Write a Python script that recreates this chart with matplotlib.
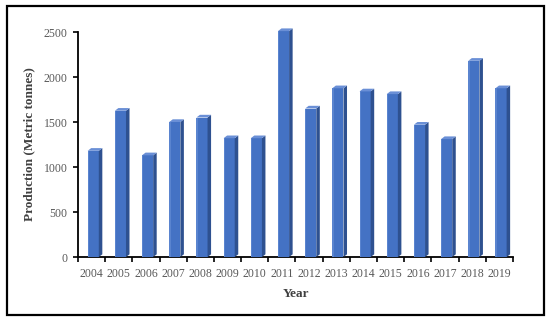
import matplotlib
matplotlib.use('Agg')
import matplotlib.pyplot as plt
from matplotlib.patches import Polygon, Rectangle
import numpy as np

#Data##########################################################################
years = ['2004', '2005', '2006', '2007', '2008', '2009', '2010', '2011',
         '2012', '2013', '2014', '2015', '2016', '2017', '2018', '2019']
production = [1180, 1625, 1130, 1500, 1550, 1320, 1320, 2510,
              1650, 1875, 1840, 1810, 1470, 1310, 2180, 1875]
###############################################################################

plt.rcParams['font.family'] = ['Liberation Serif', 'DejaVu Serif']

fig = plt.figure(figsize=(5.5, 3.23), dpi=100)
ax = fig.add_axes([0.1418, 0.2043, 0.7909, 0.6966])

x = np.arange(len(years))
w = 0.41
dx = 0.13   # depth offset, categories
dy = 30     # depth offset, data units
front = '#4472C4'
side = '#2E5190'
top = '#6A8FD6'
xf = x + 0.06

ax.bar(xf, production, width=w, color=front, edgecolor='none', zorder=3, clip_on=False)
for xi, v in zip(xf, production):
    r = xi + w / 2
    l = xi - w / 2
    ax.add_patch(Polygon([(r, 0), (r + dx, dy), (r + dx, v + dy), (r, v)],
                         closed=True, facecolor=side, edgecolor='none', zorder=3, clip_on=False))
    ax.add_patch(Polygon([(l, v), (r, v), (r + dx, v + dy), (l + dx, v + dy)],
                         closed=True, facecolor=top, edgecolor='none', zorder=3, clip_on=False))
    #light edge on the left of the front face
    ax.add_patch(Rectangle((l, 0), 0.05, v, facecolor='#5A84CF', edgecolor='none',
                           zorder=4, clip_on=False))

ax.set_xlim(-0.5, len(years) - 0.5)
ax.set_ylim(0, 2500)
ax.set_yticks([0, 500, 1000, 1500, 2000, 2500])
ax.set_xticks(x)
ax.set_xticklabels(years)
ax.set_xticks(np.arange(-0.5, len(years), 1.0), minor=True)
ax.tick_params(axis='x', which='major', length=0, pad=8, labelsize=8.5, labelcolor='#595959')
ax.tick_params(axis='x', which='minor', length=3.5, width=1.2, direction='out', color='black')
ax.tick_params(axis='y', length=3.5, width=1.2, direction='out', labelsize=8.5,
               labelcolor='#595959', pad=4)

for s in ['top', 'right']:
    ax.spines[s].set_visible(False)
for s in ['left', 'bottom']:
    ax.spines[s].set_linewidth(1.3)
    ax.spines[s].set_color('black')

ax.set_xlabel('Year', fontsize=9.5, fontweight='bold', color='#404040', labelpad=6)
ax.set_ylabel('Production (Metric tonnes)', fontsize=9.5, fontweight='bold',
              color='#404040', labelpad=6)

#outer border
fig.patches.append(Rectangle((7 / 550, 1 - 315 / 323), 537 / 550, 309 / 323,
                             transform=fig.transFigure, fill=False,
                             edgecolor='black', linewidth=1.6))

fig.savefig('out.png', dpi=100)
